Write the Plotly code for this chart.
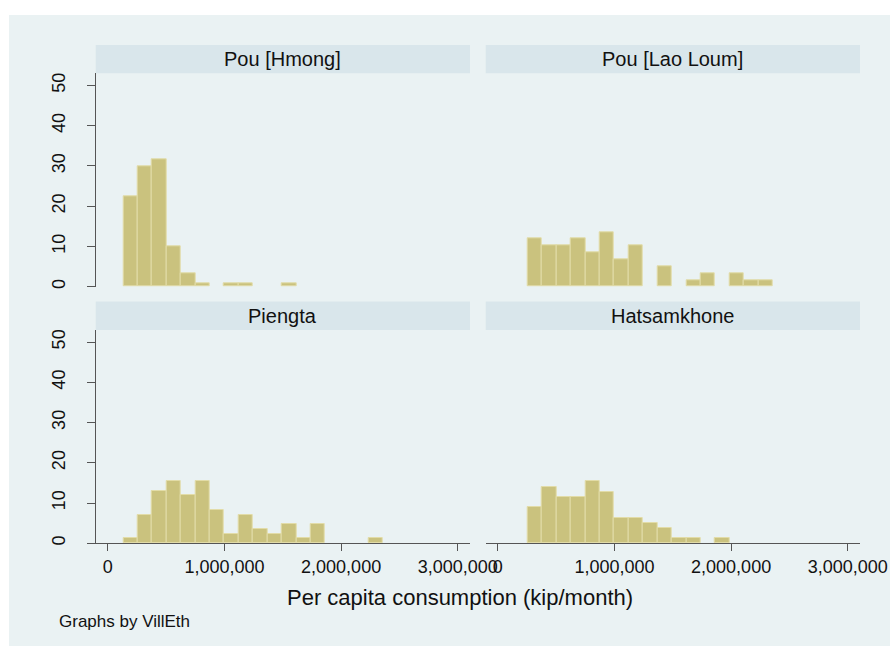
import plotly.graph_objects as go

# ---------------- data ----------------
BIN_START = 132000
BIN_WIDTH = 123600

PANELS = ["Pou [Hmong]", "Pou [Lao Loum]", "Piengta", "Hatsamkhone"]

pct_hmong = [22.5, 29.9, 31.6, 10.0, 3.3, 0.9, 0, 0.9, 0.9, 0, 0, 0.9]
pct_laoloum = [0, 11.9, 10.2, 10.2, 11.9, 8.5, 13.6, 6.8, 10.2, 0, 5.1, 0, 1.7, 3.4, 0, 3.4, 1.7, 1.7]
pct_piengta = [1.2, 7.1, 13.1, 15.5, 11.9, 15.5, 8.3, 2.4, 7.1, 3.6, 2.4, 4.8, 1.2, 4.8, 0, 0, 0, 1.2]
pct_hatsam = [0, 9.0, 14.1, 11.5, 11.5, 15.4, 12.8, 6.4, 6.4, 5.1, 3.8, 1.3, 1.3, 0, 1.3]

SERIES = [pct_hmong, pct_laoloum, pct_piengta, pct_hatsam]

X_TICKS = [0, 1000000, 2000000, 3000000]
X_TICK_LABELS = ["0", "1,000,000", "2,000,000", "3,000,000"]
Y_TICKS = [0, 10, 20, 30, 40, 50]
Y_TICK_LABELS = ["0", "10", "20", "30", "40", "50"]
GRID_VALUES = [10, 20, 30, 40]

X_TITLE = "Per capita consumption (kip/month)"
NOTE = "Graphs by VillEth"

# ---------------- style ----------------
W, H = 890, 646
FONT = "Liberation Sans, Arial, sans-serif"
OUTER_BG = "#EAF2F3"
STRIP_BG = "#D9E6EB"
BAR_FILL = "#CAC27E"
BAR_LINE = "#E2DCA8"
AXIS_COL = "#555555"
TXT = "#111111"

def px_x(p):
    return p / W

def px_y(p):
    return 1 - p / H

# panel pixel boxes: (x0, x1, y_top, y_bottom)
BOXES = [
    (95.7, 470.0, 73.3, 286.7),
    (485.7, 860.0, 73.3, 286.7),
    (95.7, 470.0, 330.0, 543.3),
    (485.7, 860.0, 330.0, 543.3),
]
STRIPS = [(45.0, 73.3), (45.0, 73.3), (301.5, 330.0), (301.5, 330.0)]

XR = [-104000, 3105000]
YR = [0, 53]

fig = go.Figure()
shapes = []
annotations = []

# outer background
shapes.append(dict(type="rect", xref="paper", yref="paper", layer="below",
                   x0=px_x(9), x1=1.0, y0=0.0, y1=px_y(15),
                   fillcolor=OUTER_BG, line=dict(width=0)))

for i, (name, vals) in enumerate(zip(PANELS, SERIES)):
    ax = "" if i == 0 else str(i + 1)
    xs, ys = [], []
    for k, v in enumerate(vals):
        if v > 0:
            xs.append(BIN_START + (k + 0.5) * BIN_WIDTH)
            ys.append(v)
    fig.add_trace(go.Bar(
        x=xs, y=ys, width=BIN_WIDTH, xaxis="x" + ax, yaxis="y" + ax,
        marker=dict(color=BAR_FILL, line=dict(color=BAR_LINE, width=1)),
        showlegend=False, hoverinfo="x+y"))

    x0, x1, yt, yb = BOXES[i]
    left = i in (0, 2)
    bottom = i in (2, 3)
    xaxis = dict(domain=[px_x(x0), px_x(x1)], range=XR, anchor="y" + ax,
                 showgrid=False, zeroline=False, automargin=False,
                 showline=bottom, linecolor=AXIS_COL, linewidth=1,
                 ticks="outside" if bottom else "", ticklen=7, tickcolor=AXIS_COL,
                 tickvals=X_TICKS, ticktext=X_TICK_LABELS,
                 showticklabels=bottom, ticklabelstandoff=0,
                 tickfont=dict(family=FONT, size=18, color=TXT))
    yaxis = dict(domain=[px_y(yb), px_y(yt)], range=YR, anchor="x" + ax,
                 showgrid=False, zeroline=False, automargin=False,
                 showline=left, linecolor=AXIS_COL, linewidth=1,
                 ticks="outside" if left else "", ticklen=8, tickcolor=AXIS_COL,
                 tickvals=Y_TICKS, ticktext=Y_TICK_LABELS, tickangle=-90,
                 showticklabels=left, ticklabelstandoff=15,
                 tickfont=dict(family=FONT, size=18, color=TXT))
    fig.update_layout({"xaxis" + ax: xaxis, "yaxis" + ax: yaxis})

    # gridlines
    for g in GRID_VALUES:
        shapes.append(dict(type="line", xref="x" + ax + " domain", yref="y" + ax,
                           x0=0, x1=1, y0=g, y1=g, layer="below",
                           line=dict(color=OUTER_BG, width=1.3)))
    # strip
    s0, s1 = STRIPS[i]
    shapes.append(dict(type="rect", xref="paper", yref="paper", layer="below",
                       x0=px_x(x0), x1=px_x(x1), y0=px_y(s1), y1=px_y(s0),
                       fillcolor=STRIP_BG, line=dict(width=0)))
    annotations.append(dict(text=name, xref="paper", yref="paper",
                            x=px_x((x0 + x1) / 2), y=px_y((s0 + s1) / 2),
                            xanchor="center", yanchor="middle", showarrow=False,
                            font=dict(family=FONT, size=20, color=TXT)))

annotations.append(dict(text=X_TITLE, xref="paper", yref="paper",
                        x=px_x(460), y=px_y(597), xanchor="center", yanchor="middle",
                        showarrow=False, font=dict(family=FONT, size=22, color=TXT)))
annotations.append(dict(text=NOTE, xref="paper", yref="paper",
                        x=px_x(57), y=px_y(621), xanchor="left", yanchor="middle",
                        showarrow=False, font=dict(family=FONT, size=17, color=TXT)))

fig.update_layout(
    template="none",
    width=W, height=H,
    margin=dict(l=0, r=0, t=0, b=0),
    paper_bgcolor="white", plot_bgcolor="white",
    shapes=shapes, annotations=annotations,
    bargap=0, showlegend=False,
    font=dict(family=FONT, color=TXT),
)

fig.write_html("out.html")
